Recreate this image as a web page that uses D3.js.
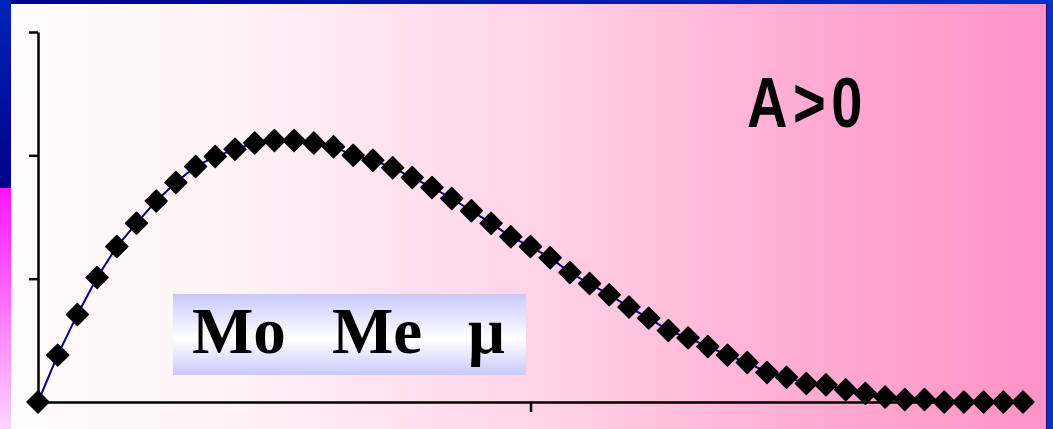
<!DOCTYPE html>
<html>
<head>
<meta charset="utf-8">
<script src="https://cdn.jsdelivr.net/npm/d3@7"></script>
<style>
  html, body { margin: 0; padding: 0; background: #ffffff; }
  svg { display: block; }
</style>
</head>
<body>
<div id="chart"></div>
<script>
var w = 1053;
var h = 429;

// Values: 51 points, y axis 0..3
var xValues = d3.range(0, 51);
var yValues = [0, 0.38, 0.71, 1.01, 1.26, 1.45, 1.63, 1.78, 1.91, 1.99,
               2.05, 2.10, 2.12, 2.12, 2.10, 2.07, 2.00, 1.96, 1.90, 1.82,
               1.74, 1.65, 1.55, 1.45, 1.34, 1.26, 1.17, 1.05, 0.96, 0.87,
               0.77, 0.68, 0.58, 0.52, 0.45, 0.38, 0.32, 0.24, 0.20, 0.15,
               0.14, 0.10, 0.07, 0.04, 0.02, 0.02, 0, 0, 0, 0, 0];
var yTicks = [0, 1, 2, 3];
var xTicks = [25];
var labels = ["Mo", "Me", "\u03bc"];
var labelX = [192, 332, 468];
var title = "A>0";

var svg = d3.select("#chart")
            .append("svg")
                .attr("width", w)
                .attr("height", h);

var defs = svg.append("defs");

// frame gradients
var topGrad = defs.append("linearGradient").attr("id", "topGrad");
topGrad.append("stop").attr("offset", "0%").attr("stop-color", "#000090");
topGrad.append("stop").attr("offset", "100%").attr("stop-color", "#0030cc");

var leftTop = defs.append("linearGradient").attr("id", "leftTop")
    .attr("x1", 0).attr("y1", 0).attr("x2", 0).attr("y2", 1);
leftTop.append("stop").attr("offset", "0%").attr("stop-color", "#0024b8");
leftTop.append("stop").attr("offset", "100%").attr("stop-color", "#000088");

var leftBottom = defs.append("linearGradient").attr("id", "leftBottom")
    .attr("x1", 0).attr("y1", 0).attr("x2", 0).attr("y2", 1);
leftBottom.append("stop").attr("offset", "0%").attr("stop-color", "#ff14ff");
leftBottom.append("stop").attr("offset", "100%").attr("stop-color", "#ffd4ff");

// panel gradient, white to pink
var panelGrad = defs.append("linearGradient").attr("id", "panelGrad");
panelGrad.append("stop").attr("offset", "0%").attr("stop-color", "#fffafb");
panelGrad.append("stop").attr("offset", "20%").attr("stop-color", "#fff4f8");
panelGrad.append("stop").attr("offset", "50%").attr("stop-color", "#ffd4e8");
panelGrad.append("stop").attr("offset", "75%").attr("stop-color", "#ffaed4");
panelGrad.append("stop").attr("offset", "100%").attr("stop-color", "#ff92c6");

var boxGrad = defs.append("linearGradient").attr("id", "boxGrad")
    .attr("x1", 0).attr("y1", 0).attr("x2", 0).attr("y2", 1);
boxGrad.append("stop").attr("offset", "0%").attr("stop-color", "#c8c8fc");
boxGrad.append("stop").attr("offset", "55%").attr("stop-color", "#ffffff");
boxGrad.append("stop").attr("offset", "100%").attr("stop-color", "#c8c8fc");

// background frame
svg.append("rect").attr("width", w).attr("height", h).attr("fill", "url(#topGrad)");
svg.append("rect").attr("x", 0).attr("y", 0).attr("width", 11).attr("height", 188)
    .attr("fill", "url(#leftTop)");
svg.append("rect").attr("x", 0).attr("y", 188).attr("width", 11).attr("height", h - 188)
    .attr("fill", "url(#leftBottom)");
svg.append("rect").attr("x", 1046).attr("y", 4).attr("width", 1).attr("height", h - 4)
    .attr("fill", "#101050");
svg.append("rect")
    .attr("x", 11).attr("y", 4)
    .attr("width", 1035).attr("height", h - 4)
    .attr("fill", "url(#panelGrad)");

var x = d3.scaleLinear().domain([0, 50]).range([38, 1023]);
var y = d3.scaleLinear().domain([0, 3]).range([402, 32]);

// axes
svg.append("g")
    .attr("transform", "translate(" + x(0) + ",0)")
    .call(d3.axisLeft(y).tickValues(yTicks).tickSize(9).tickSizeOuter(0).tickFormat(""));
svg.append("g")
    .attr("transform", "translate(0," + y(0) + ")")
    .call(d3.axisBottom(x).tickValues(xTicks).tickSize(10).tickSizeOuter(0).tickFormat(""));
svg.selectAll(".domain, .tick line")
    .attr("stroke", "#000")
    .attr("stroke-width", 2.5);

// line
var line = d3.line()
    .x(function(d, i) { return x(xValues[i]); })
    .y(function(d) { return y(d); });

svg.append("path")
    .datum(yValues)
    .attr("fill", "none")
    .attr("stroke", "#000080")
    .attr("stroke-width", 2)
    .attr("d", line);

// diamond markers
var diamond = d3.symbol().type(d3.symbolSquare).size(240);
svg.selectAll("path.marker")
    .data(yValues)
    .enter()
    .append("path")
        .attr("class", "marker")
        .attr("d", diamond)
        .attr("fill", "#000")
        .attr("stroke", "#000")
        .attr("stroke-width", 1.5)
        .attr("stroke-linejoin", "round")
        .attr("transform", function(d, i) {
            return "translate(" + x(xValues[i]) + "," + y(d) + ") rotate(45)";
        });

// label box
svg.append("rect")
    .attr("x", 173).attr("y", 294)
    .attr("width", 353).attr("height", 81)
    .attr("fill", "url(#boxGrad)");

svg.selectAll("text.label")
    .data(labels)
    .enter()
    .append("text")
        .attr("class", "label")
        .attr("x", function(d, i) { return labelX[i]; })
        .attr("y", 353)
        .attr("font-family", "'Liberation Serif', 'Times New Roman', serif")
        .attr("font-weight", "bold")
        .attr("font-size", 65)
        .attr("fill", "#000")
        .text(function(d) { return d; });

// narrow bold title, squeezed horizontally
svg.append("text")
    .attr("transform", "translate(747,127) scale(0.8,1)")
    .attr("font-family", "'Liberation Sans', Arial, sans-serif")
    .attr("font-weight", "bold")
    .attr("font-size", 70)
    .attr("letter-spacing", 7)
    .attr("fill", "#000")
    .text(title);
</script>
</body>
</html>
